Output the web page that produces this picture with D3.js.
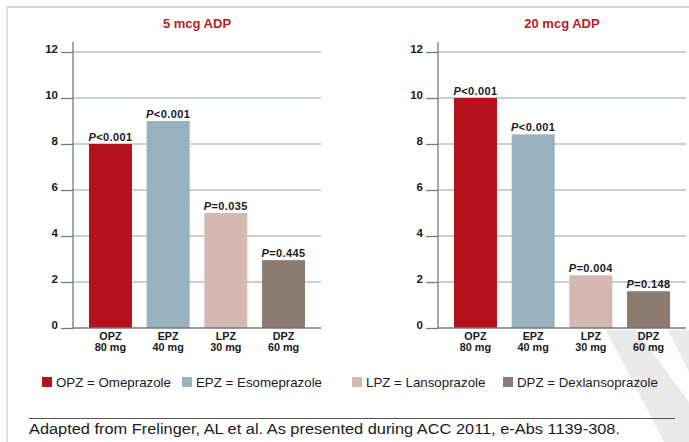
<!DOCTYPE html>
<html>
<head>
<meta charset="utf-8">
<script src="https://cdn.jsdelivr.net/npm/d3@7/dist/d3.min.js"></script>
<style>
  html, body { margin: 0; padding: 0; background: #fff; }
  svg { display: block; font-family: "Liberation Sans", Arial, Helvetica, sans-serif; }
</style>
</head>
<body>
<svg id="chart" width="689" height="442"></svg>
<script>
// ---- data ----
const categories = ["OPZ", "EPZ", "LPZ", "DPZ"];
const doses = ["80 mg", "40 mg", "30 mg", "60 mg"];
const legendNames = ["Omeprazole", "Esomeprazole", "Lansoprazole", "Dexlansoprazole"];
const panelTitles = ["5 mcg ADP", "20 mcg ADP"];
const values5 = [8, 9, 5, 2.95];
const values20 = [10, 8.42, 2.29, 1.6];
const pLabels5 = ["<0.001", "<0.001", "=0.035", "=0.445"];
const pLabels20 = ["<0.001", "<0.001", "=0.004", "=0.148"];
const yTicks = [0, 2, 4, 6, 8, 10, 12];
const footnote = "Adapted from Frelinger, AL et al. As presented during ACC 2011, e-Abs 1139-308.";

// ---- styles ----
const barColors = ["#b5121b", "#97b1bf", "#d4b8ae", "#8d7b70"];
const titleColor = "#b81c25";
const gridColor = "#b3c0c9";
const axisColor = "#6f7a83";
const textColor = "#1a1a1a";

const svg = d3.select("#chart");

// frame lines
svg.append("line").attr("x1", 7).attr("x2", 689).attr("y1", 7).attr("y2", 7)
  .attr("stroke", "#d2d2d8").attr("stroke-width", 2);
svg.append("line").attr("x1", 7).attr("x2", 7).attr("y1", 7).attr("y2", 442)
  .attr("stroke", "#d2d2d8").attr("stroke-width", 1.5);

// faint watermark (bottom right)
const wm = svg.append("g").attr("fill", "#d0d0d0").attr("opacity", 0.45);
wm.append("polygon").attr("points", "606,330 636,330 689,402 689,442 664,442");
wm.append("polygon").attr("points", "668,330 689,330 689,372");

const y = d3.scaleLinear().domain([0, 12]).range([328, 52]);

const panels = [
  { x0: 73, x1: 321, title: panelTitles[0], values: values5, pl: pLabels5 },
  { x0: 438, x1: 686, title: panelTitles[1], values: values20, pl: pLabels20 }
];

panels.forEach(p => {
  const g = svg.append("g");
  const x = d3.scaleBand().domain(categories).range([p.x0, p.x1])
    .paddingInner(0.255).paddingOuter(0.277);

  // title
  g.append("text").attr("x", (p.x0 + p.x1) / 2).attr("y", 28)
    .attr("text-anchor", "middle").attr("font-size", 13).attr("font-weight", "bold")
    .attr("fill", titleColor).text(p.title);

  // gridlines
  g.selectAll(".grid").data(yTicks.filter(t => t > 0)).join("line")
    .attr("x1", p.x0).attr("x2", p.x1)
    .attr("y1", d => y(d)).attr("y2", d => y(d))
    .attr("stroke", gridColor).attr("stroke-width", 1.5);

  // y axis (ticks + labels)
  const ax = g.append("g").attr("transform", `translate(${p.x0},0)`)
    .call(d3.axisLeft(y).tickValues(yTicks).tickSize(12).tickPadding(3).tickFormat(d3.format("d")));
  ax.select(".domain").remove();
  ax.selectAll(".tick line").attr("stroke", axisColor).attr("stroke-width", 1.3);
  ax.selectAll(".tick text").attr("font-size", 11.5).attr("font-weight", "bold")
    .attr("fill", textColor).attr("dy", "0.0em")
    .attr("font-family", "Liberation Sans, Arial, sans-serif");

  // bars
  g.selectAll(".bar").data(p.values).join("rect")
    .attr("x", (d, i) => x(categories[i])).attr("width", x.bandwidth())
    .attr("y", d => y(d)).attr("height", d => y(0) - y(d))
    .attr("fill", (d, i) => barColors[i]);

  // baseline and vertical axis
  g.append("line").attr("x1", p.x0).attr("x2", p.x1).attr("y1", y(0)).attr("y2", y(0))
    .attr("stroke", axisColor).attr("stroke-width", 1.5);
  g.append("line").attr("x1", p.x0).attr("x2", p.x0).attr("y1", y(0)).attr("y2", 42)
    .attr("stroke", axisColor).attr("stroke-width", 1.3);

  // p labels
  g.selectAll(".plab").data(p.values).join("text")
    .attr("x", (d, i) => x(categories[i]) + x.bandwidth() / 2)
    .attr("y", d => y(d) - 3)
    .attr("text-anchor", "middle").attr("font-size", 11).attr("font-weight", "bold")
    .attr("letter-spacing", 0.4)
    .attr("fill", textColor)
    .each(function(d, i) {
      const t = d3.select(this);
      t.append("tspan").attr("font-style", "italic").text("P");
      t.append("tspan").text(p.pl[i]);
    });

  // category labels
  categories.forEach((c, i) => {
    const cx = x(c) + x.bandwidth() / 2;
    g.append("text").attr("x", cx).attr("y", 340).attr("text-anchor", "middle")
      .attr("font-size", 10.8).attr("font-weight", "bold").attr("fill", textColor).text(c);
    g.append("text").attr("x", cx).attr("y", 351).attr("text-anchor", "middle")
      .attr("font-size", 10.8).attr("font-weight", "bold").attr("fill", textColor).text(doses[i]);
  });
});

// legend
const legendX = [42, 182, 352, 503];
const lg = svg.append("g");
categories.forEach((c, i) => {
  lg.append("rect").attr("x", legendX[i]).attr("y", 377).attr("width", 10).attr("height", 10)
    .attr("fill", barColors[i]);
  lg.append("text").attr("x", legendX[i] + 14).attr("y", 386.5)
    .attr("font-size", 13.3).attr("fill", textColor)
    .text(`${c} = ${legendNames[i]}`);
});

// footnote
svg.append("line").attr("x1", 29).attr("x2", 675).attr("y1", 418.5).attr("y2", 418.5)
  .attr("stroke", "#555").attr("stroke-width", 1.2);
svg.append("text").attr("x", 29).attr("y", 434).attr("font-size", 14)
  .attr("textLength", 591).attr("lengthAdjust", "spacingAndGlyphs")
  .attr("fill", textColor).text(footnote);
</script>
</body>
</html>
